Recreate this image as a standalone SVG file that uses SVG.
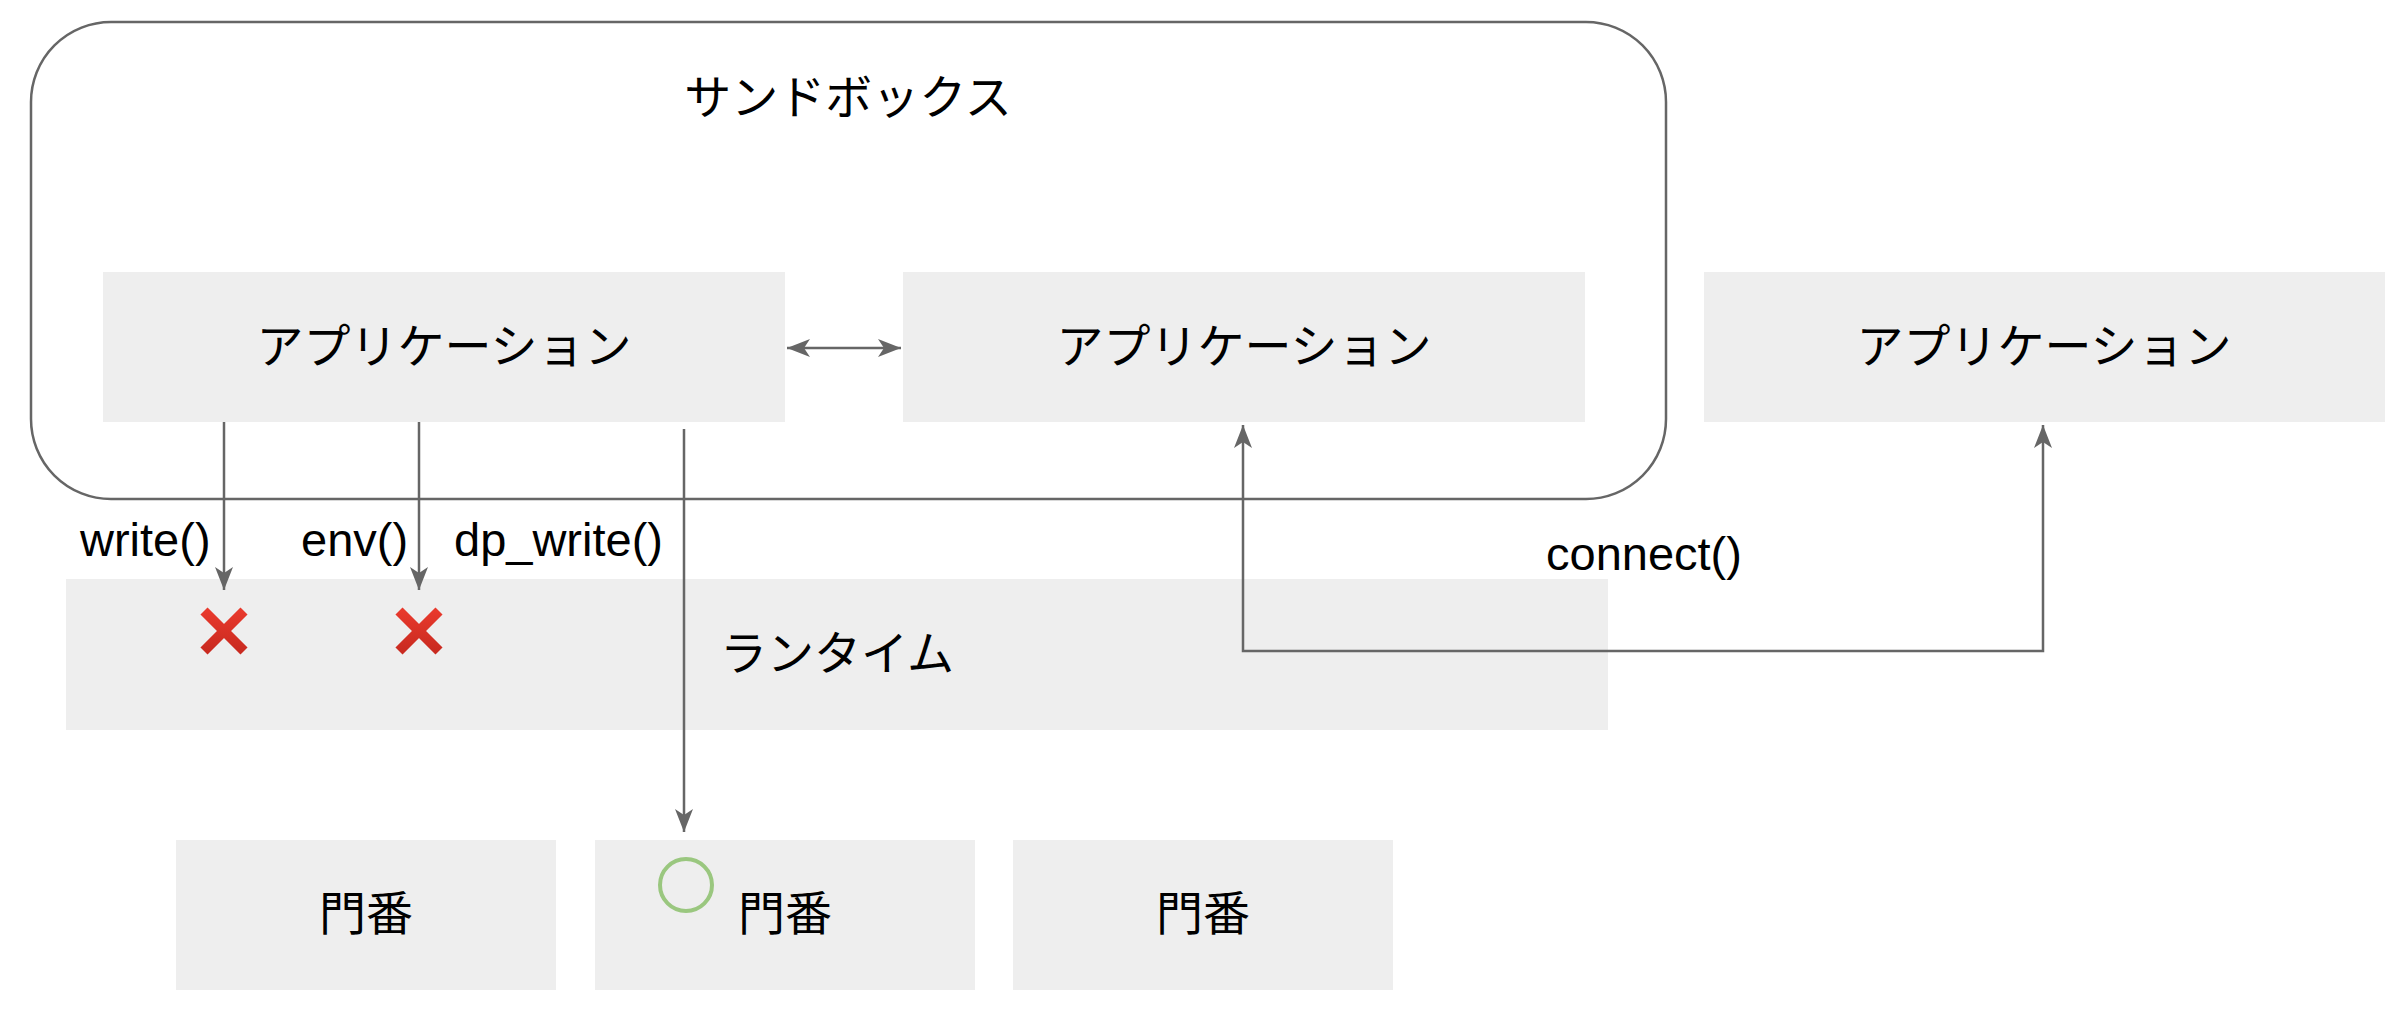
<svg xmlns="http://www.w3.org/2000/svg" width="2394" height="1034" viewBox="0 0 2394 1034">
<defs>
<style>
.box{fill:#eeeeee;stroke:none}
.jp{font-family:"Noto Sans CJK JP","Noto Sans",sans-serif;font-size:47px;fill:#000;text-anchor:middle;dominant-baseline:central}
.lt{font-family:"Liberation Sans",Arial,sans-serif;font-size:47px;fill:#000}
.edge{fill:none;stroke:#666666;stroke-width:2.5}
.cross{stroke:url(#redg);stroke-width:10;stroke-linecap:butt}
</style>
<linearGradient id="redg" x1="0" y1="0" x2="0" y2="1" gradientUnits="objectBoundingBox">
<stop offset="0" stop-color="#e8392c"/>
<stop offset="1" stop-color="#c92a20"/>
</linearGradient>
<marker id="arr" viewBox="0 0 24 20" refX="23" refY="10" markerWidth="24" markerHeight="20" markerUnits="userSpaceOnUse" orient="auto-start-reverse">
<path d="M23 10 L0 1 L6 10 L0 19 Z" fill="#666666"/>
</marker>
</defs>
<rect width="2394" height="1034" fill="#ffffff"/>

<g id="sandbox">
<rect x="31" y="22" width="1635" height="477" rx="80" ry="80" fill="none" stroke="#666666" stroke-width="2.5"/>
<text class="jp" x="848" y="93">サンドボックス</text>
</g>

<g id="app1">
<rect class="box" x="103" y="272" width="682" height="150"/>
<text class="jp" x="444" y="342">アプリケーション</text>
</g>
<g id="app2">
<rect class="box" x="903" y="272" width="682" height="150"/>
<text class="jp" x="1244" y="342">アプリケーション</text>
</g>
<g id="app3">
<rect class="box" x="1704" y="272" width="681" height="150"/>
<text class="jp" x="2044" y="342">アプリケーション</text>
</g>

<g id="runtime">
<rect class="box" x="66" y="579" width="1542" height="151"/>
<text class="jp" x="837" y="649">ランタイム</text>
<g id="deny1"><line class="cross" x1="204" y1="611" x2="244" y2="651"/><line class="cross" x1="244" y1="611" x2="204" y2="651"/></g>
<g id="deny2"><line class="cross" x1="399" y1="611" x2="439" y2="651"/><line class="cross" x1="439" y1="611" x2="399" y2="651"/></g>
</g>

<g id="gate1">
<rect class="box" x="176" y="840" width="380" height="150"/>
<text class="jp" x="366" y="909">門番</text>
</g>
<g id="gate2">
<rect class="box" x="595" y="840" width="380" height="150"/>
<circle cx="686" cy="885" r="26" fill="none" stroke="#9ac77f" stroke-width="4"/>
<text class="jp" x="785" y="909">門番</text>
</g>
<g id="gate3">
<rect class="box" x="1013" y="840" width="380" height="150"/>
<text class="jp" x="1203" y="909">門番</text>
</g>

<g id="connectors">
<line class="edge" x1="787" y1="348" x2="901" y2="348" marker-start="url(#arr)" marker-end="url(#arr)"/>
<line class="edge" x1="224" y1="422" x2="224" y2="590" marker-end="url(#arr)"/>
<line class="edge" x1="419" y1="422" x2="419" y2="590" marker-end="url(#arr)"/>
<line class="edge" x1="684" y1="429" x2="684" y2="832" marker-end="url(#arr)"/>
<polyline class="edge" points="1243,425 1243,651 2043,651 2043,425" marker-start="url(#arr)" marker-end="url(#arr)"/>
<text class="lt" x="80" y="556">write()</text>
<text class="lt" x="301" y="556">env()</text>
<text class="lt" x="454" y="556">dp_write()</text>
<text class="lt" x="1546" y="570">connect()</text>
</g>
</svg>
